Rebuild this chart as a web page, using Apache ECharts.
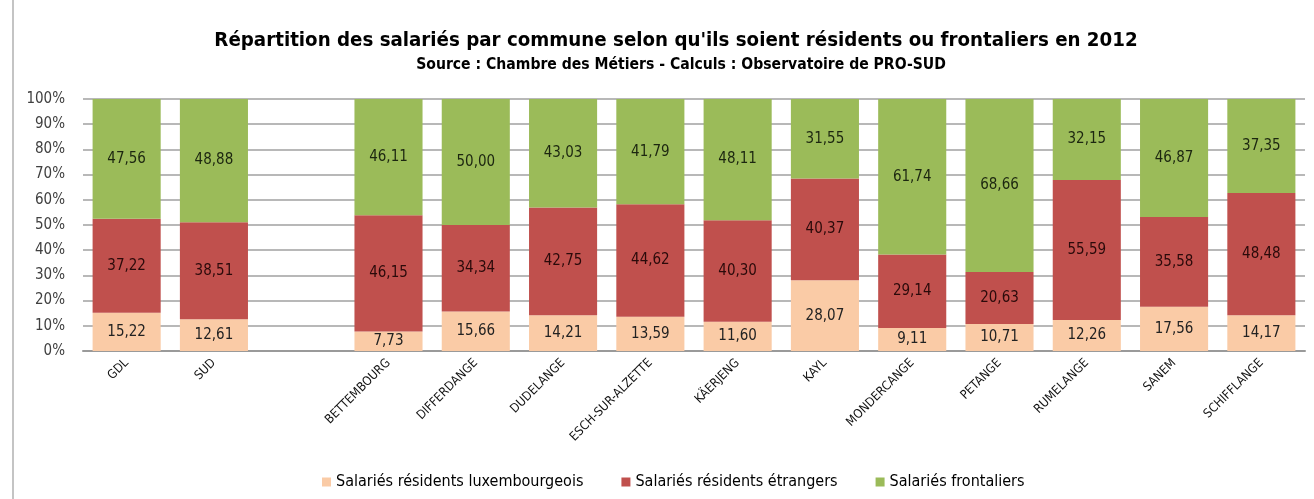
<!DOCTYPE html>
<html>
<head>
<meta charset="utf-8">
<script src="https://cdn.jsdelivr.net/npm/echarts@6/dist/echarts.min.js"></script>
<style>
html, body { margin: 0; padding: 0; background: #fff; }
#chart { width: 1314px; height: 499px; }
</style>
</head>
<body>
<div id="chart"></div>
<script>
// communes (empty entry = gap between the totals and the communes)
const categories = ['GDL', 'SUD', '', 'BETTEMBOURG', 'DIFFERDANGE', 'DUDELANGE', 'ESCH-SUR-ALZETTE',
	'KÄERJENG', 'KAYL', 'MONDERCANGE', 'PETANGE', 'RUMELANGE', 'SANEM', 'SCHIFFLANGE'];
const residentsLux = [15.22, 12.61, null, 7.73, 15.66, 14.21, 13.59, 11.60, 28.07, 9.11, 10.71, 12.26, 17.56, 14.17];
const residentsEtr = [37.22, 38.51, null, 46.15, 34.34, 42.75, 44.62, 40.30, 40.37, 29.14, 20.63, 55.59, 35.58, 48.48];
const frontaliers = [47.56, 48.88, null, 46.11, 50.00, 43.03, 41.79, 48.11, 31.55, 61.74, 68.66, 32.15, 46.87, 37.35];
const seriesNames = ['Salariés résidents luxembourgeois', 'Salariés résidents étrangers', 'Salariés frontaliers'];

const FONT = "'Liberation Sans Narrow', 'DejaVu Sans Condensed', sans-serif";

function fmt (p) {
	return p.value == null ? '' : p.value.toFixed(2).replace('.', ',');
}

function makeSerie (name, data, color, labelColor) {
	return {
		name: name,
		type: 'bar',
		stack: 'total',
		data: data,
		barCategoryGap: '22%',
		itemStyle: { color: color },
		label: {
			show: true,
			position: 'inside',
			formatter: fmt,
			color: labelColor,
			fontFamily: FONT,
			fontSize: 15
		}
	};
}

let myChart = echarts.init(document.getElementById('chart'));
myChart.setOption({
	backgroundColor: '#fff',
	animation: false,
	textStyle: { fontFamily: FONT },
	title: [{
		text: "Répartition des salariés par commune selon qu'ils soient résidents ou frontaliers en 2012",
		left: 671,
		top: 26,
		textAlign: 'center',
		textStyle: { fontFamily: FONT, fontSize: 20.3, fontWeight: 'bold', color: '#000' }
	}, {
		text: 'Source : Chambre des Métiers - Calculs : Observatoire de PRO-SUD',
		left: 676,
		top: 52,
		textAlign: 'center',
		textStyle: { fontFamily: FONT, fontSize: 15.6, fontWeight: 'bold', color: '#000' }
	}],
	legend: {
		data: seriesNames,
		left: 317,
		top: 469,
		itemWidth: 9,
		itemHeight: 9,
		itemGap: 38,
		icon: 'rect',
		textStyle: { fontFamily: FONT, fontSize: 16, color: '#000' }
	},
	grid: { left: 83, right: 9, top: 99, bottom: 148, containLabel: false },
	xAxis: {
		type: 'category',
		data: categories,
		axisLine: { lineStyle: { color: '#9a9a9a', width: 2 } },
		axisTick: { show: false },
		axisLabel: {
			interval: 0,
			rotate: 45,
			margin: 10,
			fontFamily: FONT,
			fontSize: 12.5,
			color: '#111'
		}
	},
	yAxis: {
		type: 'value',
		min: 0,
		max: 100,
		interval: 10,
		axisLine: { show: false },
		axisTick: { show: false },
		splitLine: { lineStyle: { color: '#b8b8b8', width: 2 } },
		axisLabel: {
			formatter: '{value}%',
			margin: 18,
			fontFamily: FONT,
			fontSize: 15,
			color: '#404040'
		}
	},
	graphic: [{
		type: 'line',
		shape: { x1: 13, y1: 0, x2: 13, y2: 499 },
		style: { stroke: '#c4c4c4', lineWidth: 2 }
	}],
	series: [
		makeSerie(seriesNames[0], residentsLux, '#FACBA6', '#222'),
		makeSerie(seriesNames[1], residentsEtr, '#C0504D', '#2a0a0a'),
		makeSerie(seriesNames[2], frontaliers, '#9BBB59', '#1c2610')
	]
});
</script>
</body>
</html>
